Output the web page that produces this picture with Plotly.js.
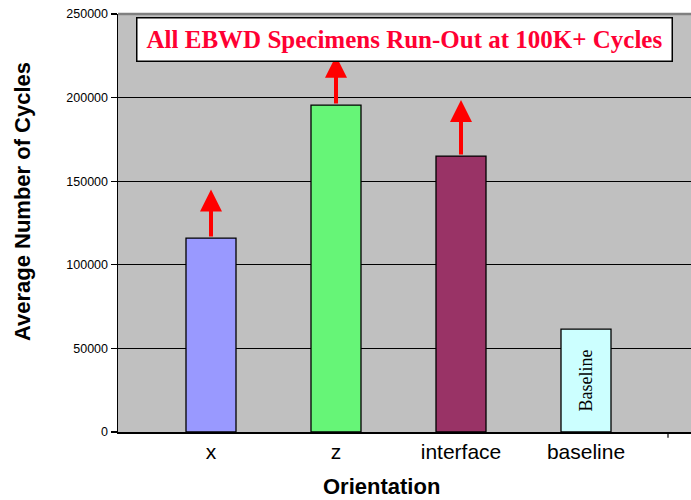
<!DOCTYPE html>
<html><head><meta charset="utf-8">
<script src="https://cdn.plot.ly/plotly-3.0.1.min.js"></script>
<style>html,body{margin:0;padding:0;background:#fff}</style>
</head><body>
<div id="chart" style="width:691px;height:500px"></div>
<script>
const categories = ['x', 'z', 'interface', 'baseline'];
const cycles = [116000, 195500, 165000, 61500];
const barColors = ['#9999FF', '#66F577', '#993366', '#CCFFFF'];
const barTexts = ['', '', '', 'Baseline'];
const runOutCats = ['x', 'z', 'interface'];
const runOutStart = [116000, 195500, 165000];
const runOutTip = [145000, 225000, 198500];
const yTicks = [0, 50000, 100000, 150000, 200000, 250000];

const trace = {
  type: 'bar', x: categories, y: cycles,
  marker: {color: barColors, line: {color: '#000', width: 1.3}},
  text: barTexts, textposition: 'inside', insidetextanchor: 'middle', textangle: -90,
  textfont: {family: 'Liberation Serif', size: 18, color: '#000'},
  hoverinfo: 'none', showlegend: false
};

const arrows = runOutCats.map((c, i) => ({
  x: c, y: runOutTip[i], xref: 'x', yref: 'y',
  ax: c, ay: runOutStart[i], axref: 'x', ayref: 'y',
  showarrow: true, arrowhead: 2, arrowsize: 1.1, arrowwidth: 4, arrowcolor: '#FF0000', text: ''
}));

const layout = {
  width: 691, height: 500,
  margin: {l: 118, r: 0, t: 14, b: 68},
  paper_bgcolor: '#FFFFFF', plot_bgcolor: '#C0C0C0',
  bargap: 0.6,
  xaxis: {
    type: 'category', range: [-0.744, 3.84],
    showline: true, linecolor: '#000', linewidth: 1.5,
    ticks: '', showgrid: false,
    tickfont: {family: 'Liberation Sans, Arial', size: 21, color: '#000'}
  },
  yaxis: {
    range: [0, 250000], tickvals: yTicks, ticktext: yTicks.map(String),
    showline: true, linecolor: '#000', linewidth: 1.5,
    ticks: 'outside', ticklen: 6, tickcolor: '#000', tickwidth: 1.2,
    showgrid: true, gridcolor: '#000', gridwidth: 1, zeroline: false,
    tickfont: {family: 'Liberation Sans, Arial', size: 12.5, color: '#000'}
  },
  shapes: [
    {type: 'line', xref: 'paper', yref: 'paper', x0: 0, x1: 1, y0: 1, y1: 1, line: {color: '#808080', width: 2.5}},
    {type: 'line', xref: 'x', yref: 'paper', x0: 3.656, x1: 3.656, y0: 0, y1: -0.014, line: {color: '#000', width: 1.2}}
  ],
  annotations: arrows.concat([
    {
      xref: 'paper', yref: 'paper', x: 0.0314, y: 0.993, xanchor: 'left', yanchor: 'top',
      text: '<b>All EBWD Specimens Run-Out at 100K+ Cycles</b>', showarrow: false,
      font: {family: 'Liberation Serif, Times New Roman', size: 25, color: '#FF0033'},
      bgcolor: '#FFFFFF', bordercolor: '#000', borderwidth: 1.5, borderpad: 6,
      width: 522, height: 30
    },
    {
      xref: 'paper', yref: 'paper', x: 0.4607, y: -0.131, xanchor: 'center', yanchor: 'middle',
      text: '<b>Orientation</b>', showarrow: false,
      font: {family: 'Liberation Sans, Arial', size: 22, color: '#000'}
    },
    {
      xref: 'paper', yref: 'paper', x: -0.1675, y: 0.55, xanchor: 'center', yanchor: 'middle',
      text: '<b>Average Number of Cycles</b>', showarrow: false, textangle: -90,
      font: {family: 'Liberation Sans, Arial', size: 22, color: '#000'}
    }
  ])
};

Plotly.newPlot('chart', [trace], layout, {displayModeBar: false, staticPlot: true});
</script>
</body></html>
